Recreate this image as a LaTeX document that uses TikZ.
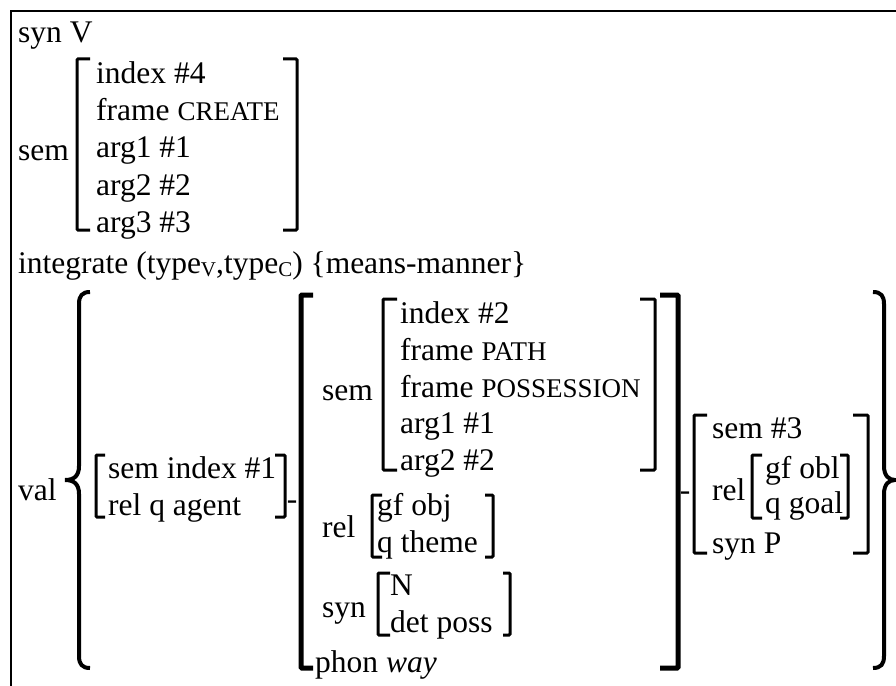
\documentclass[tikz,border=0pt]{standalone}
\usepackage{fontspec}
\setmainfont{Liberation Serif}
\newcommand\capsm[1]{{\fontsize{27}{30}\selectfont #1}}
\newcommand\subsm[1]{\raisebox{-3pt}{\fontsize{21}{24}\selectfont #1}}
\newcommand\sqbr[5][brk]{\draw[#1] (#3,#4) -- (#2,#4) -- (#2,#5) -- (#3,#5);}
\begin{document}
\begin{tikzpicture}[x=1pt,y=-1pt,
  txt/.style={anchor=base west,inner sep=0pt,font=\fontsize{31.5}{36}\selectfont},
  brk/.style={line width=3pt,rounded corners=1pt},
  bigbrk/.style={line width=5pt,rounded corners=1pt},
  brc/.style={line width=4pt},
  frm/.style={line width=2.8pt}]
\useasboundingbox (0,0) rectangle (896,685);
\clip (0,0) rectangle (896,685);
\fill[white] (0,0) rectangle (896,685);
\draw[frm] (11,700) -- (11,11) -- (910,11);
% top part
\node[txt] (synV) at (18,43) {syn V};
\node[txt] (sem1) at (18,160) {sem};
\node[txt] (s1a) at (96,83) {index \#4};
\node[txt] (s1b) at (96,120) {frame \capsm{CREATE}};
\node[txt] (s1c) at (96,157.5) {arg1 \#1};
\node[txt] (s1d) at (96,195) {arg2 \#2};
\node[txt] (s1e) at (96,232) {arg3 \#3};
\sqbr{77}{90}{59}{230}
\sqbr{297}{283}{59}{230}
\node[txt] (integ) at (18,273) {integrate (type\subsm{V},type\subsm{C}) \{means-manner\}};
% val
\node[txt] (val) at (18,500) {val};
\draw[brc] (90,292) .. controls (82,292) and (79,296) .. (79,304) -- (79,466)
  .. controls (79,476) and (74,480) .. (65,480)
  .. controls (74,480) and (79,484) .. (79,494) -- (79,656)
  .. controls (79,664) and (82,668) .. (90,668);
\draw[brc] (873,292) .. controls (881,292) and (884,296) .. (884,304) -- (884,466)
  .. controls (884,476) and (889,480) .. (895,480)
  .. controls (889,480) and (884,484) .. (884,494) -- (884,656)
  .. controls (884,664) and (881,668) .. (873,668);
% first element
\node[txt] (a1) at (108,478) {sem index \#1};
\node[txt] (a2) at (108,515) {rel q agent};
\sqbr{96}{105}{455}{517}
\sqbr{285}{275}{455}{517}
\node[txt,anchor=base] (d1) at (292,509) {-};
% second element
\sqbr[bigbrk]{301}{313}{295}{668}
\sqbr[bigbrk]{678}{660}{295}{668}
\node[txt] (sem2) at (322,400) {sem};
\node[txt] (b1) at (400,323) {index \#2};
\node[txt] (b2) at (400,360) {frame \capsm{PATH}};
\node[txt] (b3) at (400,397) {frame \capsm{POSSESSION}};
\node[txt] (b4) at (400,433) {arg1 \#1};
\node[txt] (b5) at (400,470) {arg2 \#2};
\sqbr{383}{397}{299}{470}
\sqbr{655}{640}{299}{470}
\node[txt] (rel2) at (322,537) {rel};
\node[txt] (c1) at (377,515) {gf obj};
\node[txt] (c2) at (377,552) {q theme};
\sqbr{372}{382}{495}{557}
\sqbr{493}{485}{495}{557}
\node[txt] (syn2) at (322,617) {syn};
\node[txt] (e1) at (390,595) {N};
\node[txt] (e2) at (390,632) {det poss};
\sqbr{378}{390}{573}{635}
\sqbr{510}{503}{573}{635}
\node[txt] (phon) at (315,672) {phon \textit{way}};
\node[txt,anchor=base] (d2) at (685,500) {-};
% third element
\sqbr{694}{707}{415}{553}
\sqbr{868}{853}{415}{553}
\node[txt] (f1) at (712,438) {sem \#3};
\node[txt] (rel3) at (712,500) {rel};
\node[txt] (g1) at (765,478) {gf obl};
\node[txt] (g2) at (765,513) {q goal};
\sqbr{752}{762}{455}{518}
\sqbr{848}{840}{455}{518}
\node[txt] (f3) at (712,553) {syn P};
\end{tikzpicture}
\end{document}
